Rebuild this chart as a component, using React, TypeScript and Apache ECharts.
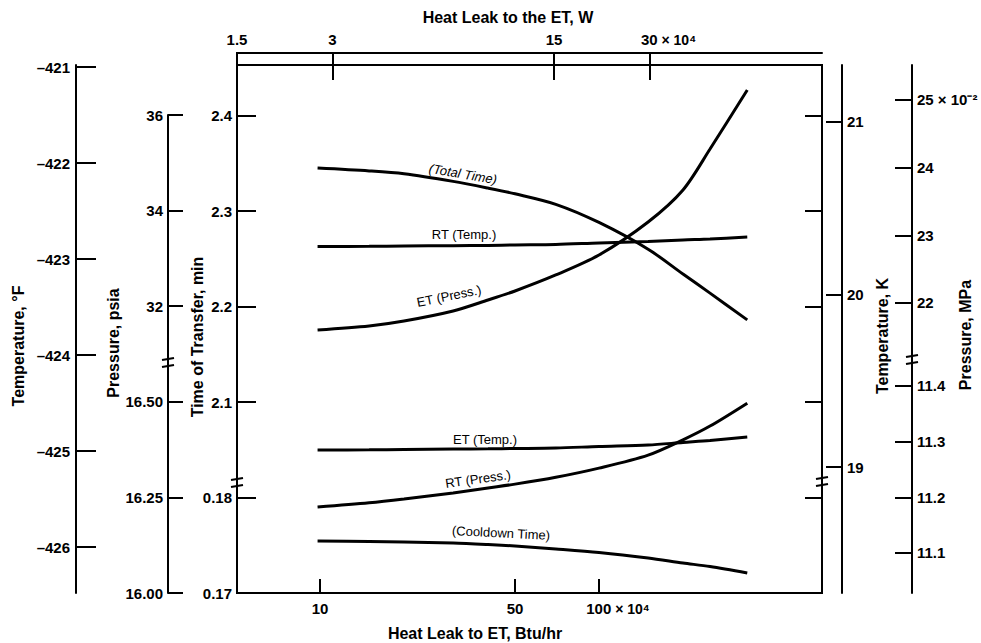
import React, { useEffect, useRef } from "react";
import * as echarts from "echarts";

// Heat leak to ET, ×10^4 Btu/hr (bottom log axis)
const heatLeakBtu = [9.8, 15, 20, 30, 40, 50, 70, 100, 150, 200, 250, 340];
// Time of transfer, min
const totalTime = [2.345, 2.342, 2.339, 2.331, 2.324, 2.318, 2.307, 2.288, 2.26, 2.234, 2.214, 2.186];
const cooldownTime = [0.17545, 0.17539, 0.17534, 0.17524, 0.17508, 0.17492, 0.17461, 0.17424, 0.17366, 0.17314, 0.17277, 0.17209];
// Temperature, °F
const rtTemp = [-422.87, -422.868, -422.865, -422.861, -422.859, -422.854, -422.849, -422.833, -422.818, -422.802, -422.792, -422.771];
const etTemp = [-424.99, -424.988, -424.984, -424.979, -424.977, -424.974, -424.969, -424.953, -424.938, -424.911, -424.891, -424.854];
// Pressure, psia
const etPress = [31.508, 31.592, 31.696, 31.906, 32.136, 32.325, 32.66, 33.079, 33.77, 34.44, 35.298, 36.534];
const rtPress = [16.225, 16.236, 16.246, 16.262, 16.275, 16.285, 16.303, 16.327, 16.361, 16.401, 16.437, 16.497];

// Tick labels
const bottomTicks = [10, 50, 100];
const bottomTickLabels = ["10", "50", "100"];
const topTicks = [1.5, 3, 15, 30];
const topTickLabels = ["1.5", "3", "15", "30"];
const timeTickLabels = ["0.17", "0.18", "2.1", "2.2", "2.3", "2.4"];
const psiaTickLabels = ["16.00", "16.25", "16.50", "32", "34", "36"];
const fTicks = [-426, -425, -424, -423, -422, -421];
const kTicks = [19, 20, 21];
const mpaUpperTicks = [22, 23, 24, 25];
const mpaLowerTicks = [11.1, 11.2, 11.3, 11.4];

const FONT = "'Liberation Sans', Arial, Helvetica, sans-serif";
const BLACK = "#000";

// broken-axis slot scale (slot = one major tick step)
const VMAX = 528 / 95.5;
const mpaToSlot = (m: number) => (m >= 20 ? 3.037 + (m - 22) * 0.709 : 0.419 + (m - 11.1) * 5.83);

const lg = (v: number) => Math.log10(v);

const tickLabelStyle = {
  color: BLACK,
  fontFamily: FONT,
  fontSize: 15,
  fontWeight: "bold" as const,
};

const richExp = {
  pad: { width: 38 },
  n: { color: BLACK, fontFamily: FONT, fontSize: 15, fontWeight: "bold" as const },
  u: { color: BLACK, fontFamily: FONT, fontSize: 14, fontWeight: "bold" as const },
};

const axisLine = { show: true, onZero: false, lineStyle: { color: BLACK, width: 2 } };
const tickLine = { color: BLACK, width: 2 };

function nearestIndex(arr: number[], v: number) {
  let best = 0;
  for (let i = 1; i < arr.length; i++) if (Math.abs(arr[i] - v) < Math.abs(arr[best] - v)) best = i;
  return best;
}

function breakMark(x: number, y: number) {
  return {
    type: "group",
    x,
    y,
    z: 100,
    children: [
      { type: "rect", shape: { x: -6, y: -3, width: 12, height: 6 }, style: { fill: "#fff" } },
      { type: "line", shape: { x1: -6, y1: -3, x2: 6, y2: -5 }, style: { stroke: BLACK, lineWidth: 2 } },
      { type: "line", shape: { x1: -6, y1: 4, x2: 6, y2: 2 }, style: { stroke: BLACK, lineWidth: 2 } },
    ],
  };
}

function title(text: string, x: number, y: number, rotation = 0) {
  return {
    type: "text",
    x,
    y,
    rotation,
    z: 50,
    style: {
      text,
      fill: BLACK,
      fontFamily: FONT,
      fontSize: 16,
      fontWeight: "bold",
      align: "center",
      verticalAlign: "middle",
    },
  };
}

function curveLabel(text: string, x: number, y: number, rotation: number, italic = false) {
  return {
    type: "text",
    x,
    y,
    rotation,
    z: 50,
    style: {
      text,
      fill: BLACK,
      fontFamily: FONT,
      fontSize: 13,
      fontStyle: italic ? "italic" : "normal",
      align: "center",
      verticalAlign: "middle",
    },
  };
}

function lineSeries(name: string, values: number[], yAxisIndex: number) {
  return {
    type: "line",
    name,
    xAxisIndex: 0,
    yAxisIndex,
    smooth: 0.3,
    showSymbol: false,
    silent: true,
    lineStyle: { color: BLACK, width: 3 },
    data: heatLeakBtu.map((x, i) => [lg(x), values[i]]),
  };
}

const mpaTickSlots = [...mpaLowerTicks, ...mpaUpperTicks].map(mpaToSlot);
const mpaTickTexts = [...mpaLowerTicks.map((v) => v.toFixed(1)), "22", "23", "24", "25 × 10⁻²"];

const option = {
  animation: false,
  backgroundColor: "#fff",
  grid: [
    { left: 237, top: 65, width: 585, height: 528, show: true, borderColor: BLACK, borderWidth: 2, backgroundColor: "transparent" },
    { left: 168, top: 115, width: 20, height: 478, show: false },
  ],
  xAxis: [
    {
      type: "value",
      gridIndex: 0,
      position: "bottom",
      min: lg(5.04),
      max: lg(630),
      axisLine,
      splitLine: { show: false },
      axisTick: { show: true, inside: true, length: 14, lineStyle: tickLine, customValues: bottomTicks.map(lg) },
      axisLabel: {
        ...tickLabelStyle,
        margin: 8,
        customValues: bottomTicks.map(lg),
        formatter: (v: number) => {
          const i = nearestIndex(bottomTicks.map(lg), v);
          return i === bottomTicks.length - 1 ? `{pad|}{n|${bottomTickLabels[i]}}{u| × 10⁴}` : `{n|${bottomTickLabels[i]}}`;
        },
        rich: richExp,
      },
    },
    {
      type: "value",
      gridIndex: 0,
      position: "top",
      offset: 12,
      min: lg(1.5),
      max: lg(105),
      axisLine,
      splitLine: { show: false },
      axisTick: { show: true, inside: true, length: 27, lineStyle: tickLine, customValues: topTicks.map(lg) },
      axisLabel: {
        ...tickLabelStyle,
        margin: 6,
        customValues: topTicks.map(lg),
        formatter: (v: number) => {
          const i = nearestIndex(topTicks.map(lg), v);
          return i === topTicks.length - 1 ? `{pad|}{n|${topTickLabels[i]}}{u| × 10⁴}` : `{n|${topTickLabels[i]}}`;
        },
        rich: richExp,
      },
    },
    { type: "value", gridIndex: 1, show: false, min: 0, max: 1 },
  ],
  yAxis: [
    // 0: time of transfer (broken, slot scale)
    {
      type: "value",
      gridIndex: 0,
      position: "left",
      offset: 0,
      min: 0,
      max: VMAX,
      axisLine,
      splitLine: { show: false },
      axisTick: { show: true, inside: true, length: 19, lineStyle: tickLine, customValues: [0, 1, 2, 3, 4, 5] },
      axisLabel: {
        ...tickLabelStyle,
        margin: 5,
        customValues: [0, 1, 2, 3, 4, 5],
        formatter: (v: number) => timeTickLabels[Math.round(v)],
      },
    },
    // 1: temperature °F
    {
      type: "value",
      gridIndex: 0,
      position: "left",
      offset: 161,
      min: -421 - 526 / 96,
      max: -421 + 2 / 96,
      axisLine,
      splitLine: { show: false },
      axisTick: { show: true, inside: true, length: 20, lineStyle: tickLine, customValues: fTicks },
      axisLabel: {
        ...tickLabelStyle,
        margin: 6,
        customValues: fTicks,
        formatter: (v: number) => "–" + Math.abs(Math.round(v)),
      },
    },
    // 2: temperature K
    {
      type: "value",
      gridIndex: 0,
      position: "right",
      offset: 20,
      min: 18.27,
      max: 21.33,
      axisLine,
      splitLine: { show: false },
      axisTick: { show: true, inside: true, length: 16, lineStyle: tickLine, customValues: kTicks },
      axisLabel: { ...tickLabelStyle, margin: 5, customValues: kTicks, formatter: (v: number) => String(Math.round(v)) },
    },
    // 3: pressure MPa (broken)
    {
      type: "value",
      gridIndex: 0,
      position: "right",
      offset: 90,
      min: 0,
      max: VMAX,
      axisLine,
      splitLine: { show: false },
      axisTick: { show: true, inside: true, length: 17, lineStyle: tickLine, customValues: mpaTickSlots },
      axisLabel: {
        ...tickLabelStyle,
        margin: 5,
        customValues: mpaTickSlots,
        formatter: (v: number) => mpaTickTexts[nearestIndex(mpaTickSlots, v)],
      },
    },
    // 4: right frame ticks (mirror of time axis)
    {
      type: "value",
      gridIndex: 0,
      position: "right",
      offset: 0,
      min: 0,
      max: VMAX,
      axisLine,
      splitLine: { show: false },
      axisTick: { show: true, inside: true, length: 17, lineStyle: tickLine, customValues: [1, 2, 3, 4, 5] },
      axisLabel: { show: false },
    },
    // 5: hidden total time scale (upper part of time axis)
    { type: "value", gridIndex: 0, show: false, min: 1.9, max: 1.9 + VMAX * 0.1 },
    // 6: hidden cooldown time scale (lower part of time axis)
    { type: "value", gridIndex: 0, show: false, min: 0.17, max: 0.17 + VMAX * 0.01 },
    // 7: hidden psia upper scale
    { type: "value", gridIndex: 0, show: false, min: 26, max: 26 + VMAX * 2 },
    // 8: hidden psia lower scale
    { type: "value", gridIndex: 0, show: false, min: 16, max: 16 + VMAX * 0.25 },
    // 9: pressure psia visible axis (broken, slot scale)
    {
      type: "value",
      gridIndex: 1,
      position: "left",
      min: 0,
      max: 5,
      axisLine,
      splitLine: { show: false },
      axisTick: { show: true, inside: true, length: 15, lineStyle: tickLine, customValues: [0, 1, 2, 3, 4, 5] },
      axisLabel: {
        ...tickLabelStyle,
        margin: 5,
        customValues: [0, 1, 2, 3, 4, 5],
        formatter: (v: number) => psiaTickLabels[Math.round(v)],
      },
    },
  ],
  series: [
    lineSeries("Total Time", totalTime, 5),
    lineSeries("RT (Temp.)", rtTemp, 1),
    lineSeries("ET (Press.)", etPress, 7),
    lineSeries("ET (Temp.)", etTemp, 1),
    lineSeries("RT (Press.)", rtPress, 8),
    lineSeries("Cooldown Time", cooldownTime, 6),
  ],
  graphic: [
    { type: "line", z: 100, shape: { x1: 237, y1: 52, x2: 237, y2: 66 }, style: { stroke: BLACK, lineWidth: 2 } },
    title("Heat Leak to the ET, W", 508, 17),
    title("Heat Leak to ET, Btu/hr", 475, 633),
    title("Temperature, °F", 18, 346, Math.PI / 2),
    title("Pressure, psia", 113, 343, Math.PI / 2),
    title("Time of Transfer, min", 197, 337, Math.PI / 2),
    title("Temperature, K", 882, 336, Math.PI / 2),
    title("Pressure, MPa", 965, 335, Math.PI / 2),
    curveLabel("(Total Time)", 463, 174, -0.17, true),
    curveLabel("RT (Temp.)", 464, 234, 0),
    curveLabel("ET (Press.)", 449, 296, 0.2),
    curveLabel("ET (Temp.)", 485, 439, 0),
    curveLabel("RT (Press.)", 478, 479, 0.14),
    curveLabel("(Cooldown Time)", 501, 533, -0.05),
    breakMark(237, 483),
    breakMark(822, 482),
    breakMark(168, 363),
    breakMark(912, 360),
  ],
};

export default function App() {
  const ref = useRef<HTMLDivElement>(null);
  useEffect(() => {
    const chart = echarts.init(ref.current!, null, { renderer: "svg" });
    chart.setOption(option as any);
    return () => chart.dispose();
  }, []);
  return (
    <div
      ref={ref}
      style={{ position: "fixed", left: 0, top: 0, width: 981, height: 643, background: "#fff" }}
    />
  );
}
